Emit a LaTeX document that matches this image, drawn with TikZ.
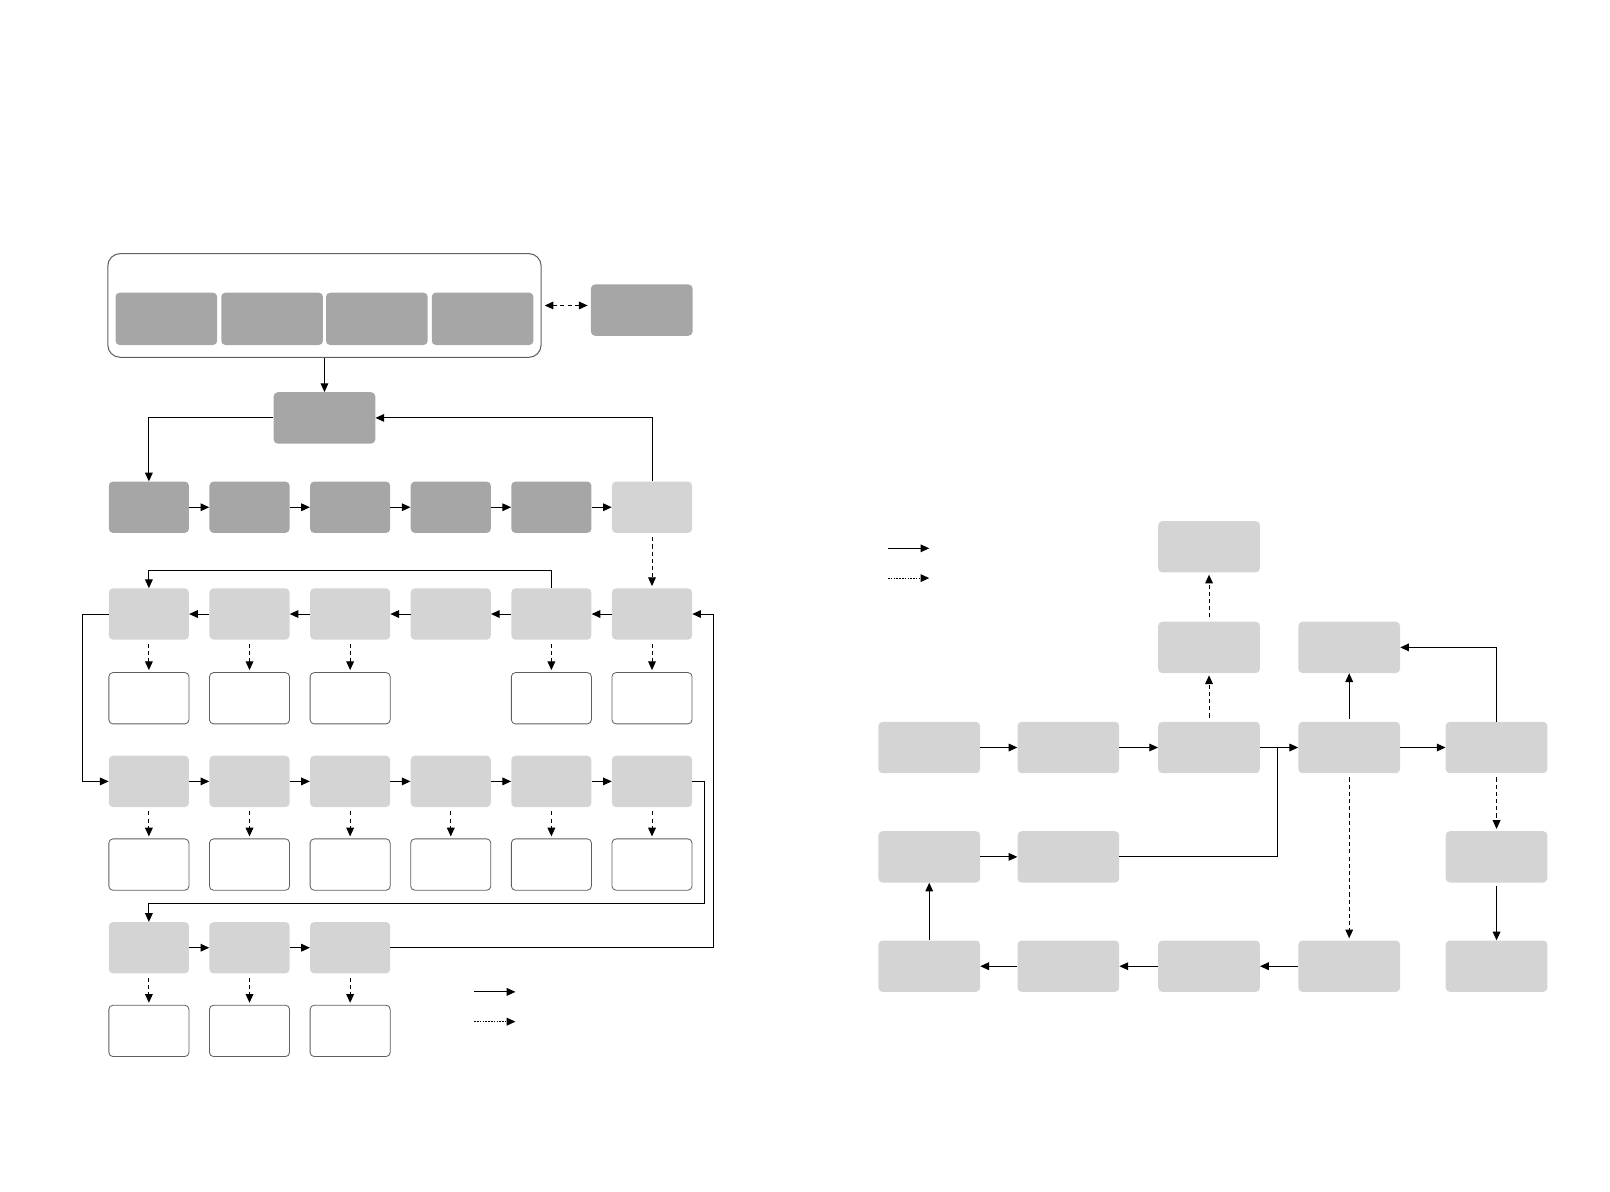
\documentclass[tikz,border=0pt]{standalone}
\usepackage{tikz}
\usetikzlibrary{arrows.meta}

\definecolor{boxdark}{RGB}{166,166,166}
\definecolor{boxlight}{RGB}{212,212,212}
\definecolor{boxline}{RGB}{95,95,95}

\begin{document}
\begin{tikzpicture}[x=1pt, y=-1pt, >={Triangle[length=8.5pt,width=7.5pt]},
  box/.style={rounded corners=4pt, inner sep=0pt, minimum height=50pt},
  dark/.style={box, fill=boxdark},
  light/.style={box, fill=boxlight},
  hollow/.style={box, draw=boxline, line width=0.8pt, fill=white},
  smallw/.style={minimum width=78pt},
  bigw/.style={minimum width=99pt},
  frame/.style={draw=boxline, line width=1pt, rounded corners=12pt, inner sep=0pt},
  flow/.style={->, line width=1pt},
  dflow/.style={->, line width=1pt, dash pattern=on 4pt off 3pt, shorten <=4pt, shorten >=2pt},
  keydot/.style={->, line width=1pt, dash pattern=on 1.5pt off 1.2pt}]

\useasboundingbox (0,0) rectangle (1568,1160);

% Column positions (left grid)
\def\ca{145}
\def\cb{243}
\def\cc{341}
\def\cd{439}
\def\ce{537}
\def\cf{635}

% Store with its four parts
\node[frame, minimum width=422pt, minimum height=101pt] (store) at (316,297.5) {};
\node[dark, bigw, minimum height=51pt] (s1) at (162,310.5) {};
\node[dark, bigw, minimum height=51pt] (s2) at (265,310.5) {};
\node[dark, bigw, minimum height=51pt] (s3) at (367,310.5) {};
\node[dark, bigw, minimum height=51pt] (s4) at (470,310.5) {};
\node[dark, bigw] (ext) at (625,302) {};
\node[dark, bigw] (hub) at (316,407) {};

% Row 1
\node[dark, smallw] (r1a) at (\ca,494) {};
\node[dark, smallw] (r1b) at (\cb,494) {};
\node[dark, smallw] (r1c) at (\cc,494) {};
\node[dark, smallw] (r1d) at (\cd,494) {};
\node[dark, smallw] (r1e) at (\ce,494) {};
\node[light, smallw] (r1f) at (\cf,494) {};

% Row 2 and its outputs
\node[light, smallw] (r2a) at (\ca,598) {};
\node[light, smallw] (r2b) at (\cb,598) {};
\node[light, smallw] (r2c) at (\cc,598) {};
\node[light, smallw] (r2d) at (\cd,598) {};
\node[light, smallw] (r2e) at (\ce,598) {};
\node[light, smallw] (r2f) at (\cf,598) {};
\node[hollow, smallw] (w3a) at (\ca,680) {};
\node[hollow, smallw] (w3b) at (\cb,680) {};
\node[hollow, smallw] (w3c) at (\cc,680) {};
\node[hollow, smallw] (w3e) at (\ce,680) {};
\node[hollow, smallw] (w3f) at (\cf,680) {};

% Row 4 and its outputs
\node[light, smallw] (r4a) at (\ca,761) {};
\node[light, smallw] (r4b) at (\cb,761) {};
\node[light, smallw] (r4c) at (\cc,761) {};
\node[light, smallw] (r4d) at (\cd,761) {};
\node[light, smallw] (r4e) at (\ce,761) {};
\node[light, smallw] (r4f) at (\cf,761) {};
\node[hollow, smallw] (w5a) at (\ca,842) {};
\node[hollow, smallw] (w5b) at (\cb,842) {};
\node[hollow, smallw] (w5c) at (\cc,842) {};
\node[hollow, smallw] (w5d) at (\cd,842) {};
\node[hollow, smallw] (w5e) at (\ce,842) {};
\node[hollow, smallw] (w5f) at (\cf,842) {};

% Row 6 and its outputs
\node[light, smallw] (r6a) at (\ca,923) {};
\node[light, smallw] (r6b) at (\cb,923) {};
\node[light, smallw] (r6c) at (\cc,923) {};
\node[hollow, smallw] (w7a) at (\ca,1004) {};
\node[hollow, smallw] (w7b) at (\cb,1004) {};
\node[hollow, smallw] (w7c) at (\cc,1004) {};

% Left connectors
\draw[<->, line width=1pt, dash pattern=on 4pt off 3pt, shorten <=3pt, shorten >=3pt]
  (store.east) -- (ext.west |- store.east);
\draw[flow] (store.south) -- (hub.north);
\draw[flow] (hub.west) -| (r1a.north);
\draw[flow] (r1f.north) |- (hub.east);
\draw[flow] (r1a.east) -- (r1b.west);
\draw[flow] (r1b.east) -- (r1c.west);
\draw[flow] (r1c.east) -- (r1d.west);
\draw[flow] (r1d.east) -- (r1e.west);
\draw[flow] (r1e.east) -- (r1f.west);
\draw[dflow] (r1f.south) -- (r2f.north);

\draw[flow] (r2f.west) -- (r2e.east);
\draw[flow] (r2e.west) -- (r2d.east);
\draw[flow] (r2d.west) -- (r2c.east);
\draw[flow] (r2c.west) -- (r2b.east);
\draw[flow] (r2b.west) -- (r2a.east);
\draw[flow] (r2e.north) -- ++(0,-17) -| (r2a.north);
\draw[dflow] (r2a.south) -- (w3a.north);
\draw[dflow] (r2b.south) -- (w3b.north);
\draw[dflow] (r2c.south) -- (w3c.north);
\draw[dflow] (r2e.south) -- (w3e.north);
\draw[dflow] (r2f.south) -- (w3f.north);

\draw[flow] (r2a.west) -- ++(-25,0) |- (r4a.west);
\draw[flow] (r4a.east) -- (r4b.west);
\draw[flow] (r4b.east) -- (r4c.west);
\draw[flow] (r4c.east) -- (r4d.west);
\draw[flow] (r4d.east) -- (r4e.west);
\draw[flow] (r4e.east) -- (r4f.west);
\draw[dflow] (r4a.south) -- (w5a.north);
\draw[dflow] (r4b.south) -- (w5b.north);
\draw[dflow] (r4c.south) -- (w5c.north);
\draw[dflow] (r4d.south) -- (w5d.north);
\draw[dflow] (r4e.south) -- (w5e.north);
\draw[dflow] (r4f.south) -- (w5f.north);

\coordinate (bendR) at (686,880);
\draw[flow] (r4f.east) -| (bendR) -| (r6a.north);
\draw[flow] (r6a.east) -- (r6b.west);
\draw[flow] (r6b.east) -- (r6c.west);
\draw[flow] (r6c.east) -- ++(315,0) |- (r2f.east);
\draw[dflow] (r6a.south) -- (w7a.north);
\draw[dflow] (r6b.south) -- (w7b.north);
\draw[dflow] (r6c.south) -- (w7c.north);

% Left key
\coordinate (keyA) at (462,966);
\coordinate (keyB) at (462,995);
\draw[flow] (keyA) -- ++(40,0);
\draw[keydot] (keyB) -- ++(40,0);

% Right diagram
\node[light, bigw] (t1) at (1177.5,532.5) {};
\node[light, bigw] (a1) at (1177.5,630.5) {};
\node[light, bigw] (a2) at (1314,630.5) {};
\node[light, bigw] (b1) at (905,728) {};
\node[light, bigw] (b2) at (1040.5,728) {};
\node[light, bigw] (b3) at (1177.5,728) {};
\node[light, bigw] (b4) at (1314,728) {};
\node[light, bigw] (b5) at (1457.5,728) {};
\node[light, bigw] (c1) at (905,834.5) {};
\node[light, bigw] (c2) at (1040.5,834.5) {};
\node[light, bigw] (c3) at (1457.5,834.5) {};
\node[light, bigw] (d1) at (905,941) {};
\node[light, bigw] (d2) at (1040.5,941) {};
\node[light, bigw] (d3) at (1177.5,941) {};
\node[light, bigw] (d4) at (1314,941) {};
\node[light, bigw] (d5) at (1457.5,941) {};

% Right connectors
\draw[flow] (b1.east) -- (b2.west);
\draw[flow] (b2.east) -- (b3.west);
\draw[flow] (b3.east) -- (b4.west);
\draw[flow] (b4.east) -- (b5.west);
\coordinate (join) at (1244,728);
\draw[line width=1pt] (c2.east) -| (join);
\draw[flow] (c1.east) -- (c2.west);
\draw[flow] (d1.north) -- (c1.south);
\draw[flow] (d2.west) -- (d1.east);
\draw[flow] (d3.west) -- (d2.east);
\draw[flow] (d4.west) -- (d3.east);
\draw[flow, shorten <=3pt] (b4.north) -- (a2.south);
\draw[flow] (b5.north) |- (a2.east);
\draw[dflow] (b5.south) -- (c3.north);
\draw[flow, shorten <=3pt] (c3.south) -- (d5.north);
\draw[dflow] (b4.south) -- (d4.north);
\draw[dflow] (b3.north) -- (a1.south);
\draw[dflow] (a1.north) -- (t1.south);

% Right key
\coordinate (keyC) at (865,534);
\coordinate (keyD) at (865,563);
\draw[flow] (keyC) -- ++(40,0);
\draw[keydot] (keyD) -- ++(40,0);

\end{tikzpicture}
\end{document}
